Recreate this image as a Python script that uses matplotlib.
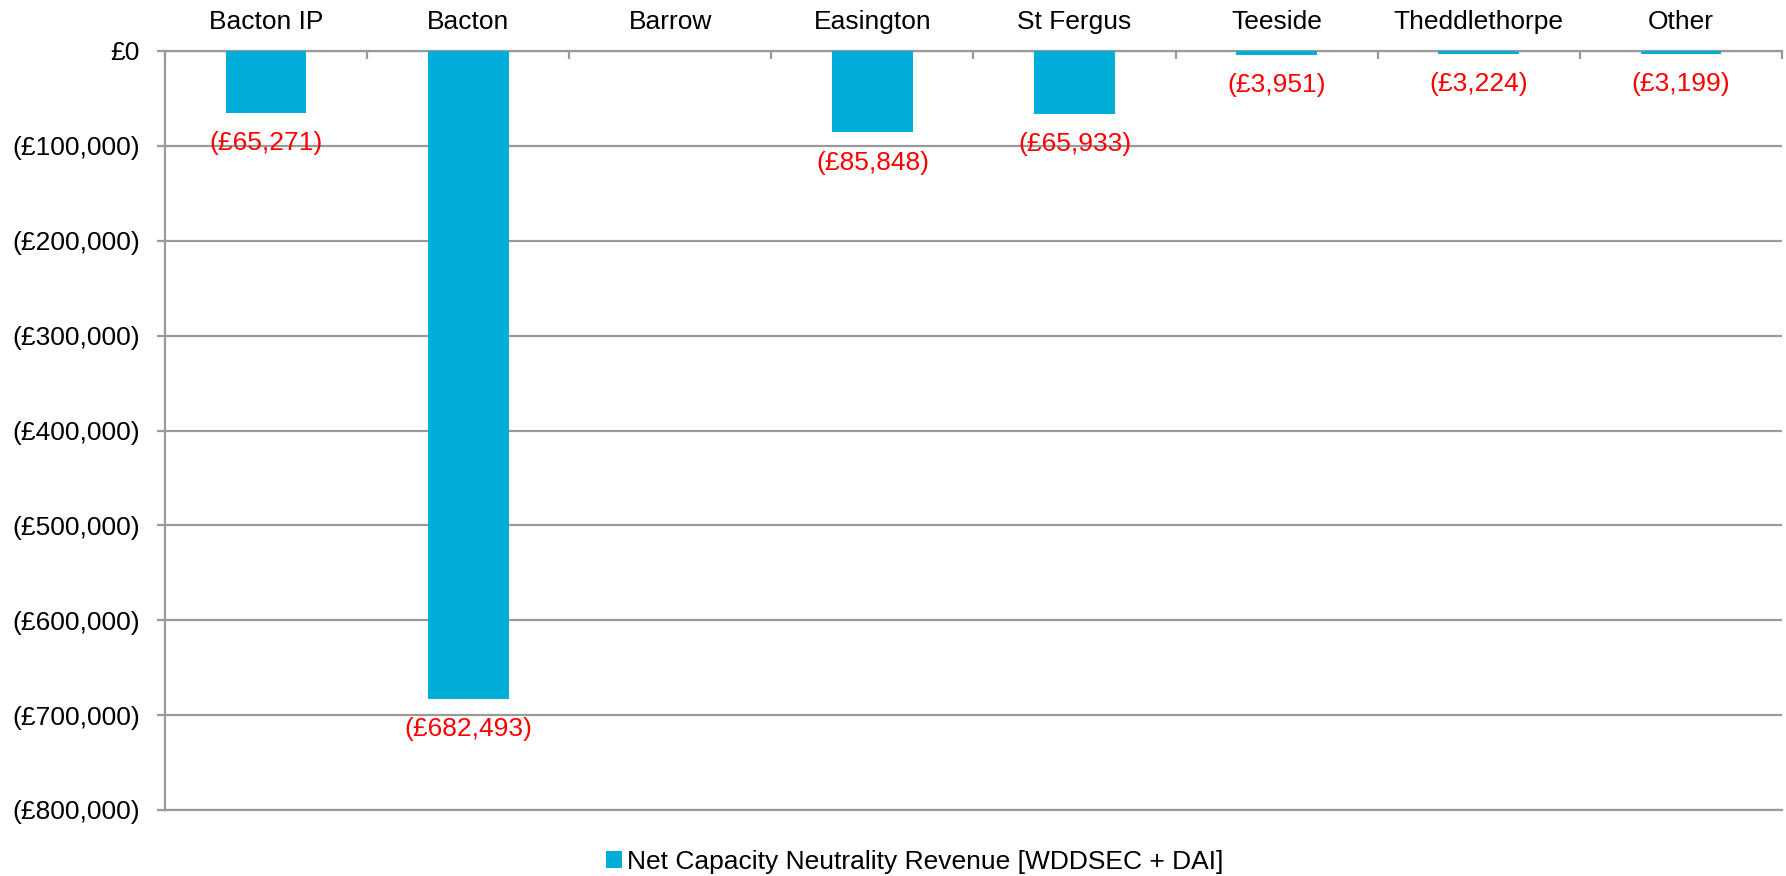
import matplotlib
matplotlib.use("Agg")
import matplotlib.pyplot as plt
import numpy as np

plt.rcParams['font.family'] = ['Liberation Sans', 'DejaVu Sans']

categories = ["Bacton IP", "Bacton", "Barrow", "Easington", "St Fergus", "Teeside", "Theddlethorpe", "Other"]
values = [-65271, -682493, 0, -85848, -65933, -3951, -3224, -3199]
labels = ["(£65,271)", "(£682,493)", "", "(£85,848)", "(£65,933)", "(£3,951)", "(£3,224)", "(£3,199)"]
ytick_vals = [0, -100000, -200000, -300000, -400000, -500000, -600000, -700000, -800000]
ytick_labels = ["£0", "(£100,000)", "(£200,000)", "(£300,000)", "(£400,000)", "(£500,000)",
                "(£600,000)", "(£700,000)", "(£800,000)"]
legend_label = "Net Capacity Neutrality Revenue [WDDSEC + DAI]"

bar_color = "#00AED9"
grid_color = "#9A9A9A"
fs = 19

fig = plt.figure(figsize=(17.86, 8.76), dpi=100)
ax = fig.add_axes([165/1786, 1-810/876, (1782-165)/1786, (810-51)/876])

x = np.arange(len(categories))
bars = ax.bar(x, values, width=0.4, color=bar_color, label=legend_label, zorder=3)

for xi, v, lab in zip(x, values, labels):
    if lab:
        ax.annotate(lab, (xi, v), xytext=(0, -13), textcoords="offset points",
                    ha="center", va="top", color="#FF0000", fontsize=fs, zorder=4)

ax.set_xlim(-0.5, len(categories) - 0.5)
ax.set_ylim(-800000, 0)
ax.set_yticks(ytick_vals)
ax.set_yticklabels(ytick_labels, fontsize=fs)
ax.yaxis.grid(True, color=grid_color, linewidth=1.6, zorder=0)
ax.set_axisbelow(True)

ax.xaxis.tick_top()
ax.set_xticks(x)
ax.set_xticklabels(categories, fontsize=fs)
ax.tick_params(axis='x', which='major', length=0, pad=12)
ax.set_xticks(np.arange(len(categories) + 1) - 0.5, minor=True)
ax.tick_params(axis='x', which='minor', direction='in', length=6, width=1.6, color=grid_color, top=True, bottom=False)
ax.tick_params(axis='y', length=6, width=1.6, color=grid_color, pad=12)

ax.spines["right"].set_visible(False)
for s in ["left", "top", "bottom"]:
    ax.spines[s].set_color(grid_color)
    ax.spines[s].set_linewidth(1.6)

leg = fig.legend(loc="center", bbox_to_anchor=(915/1786, 1-862/876), frameon=False,
                 fontsize=fs, handlelength=0.6, handleheight=0.6, handletextpad=0.2)

fig.savefig("out.png", dpi=100)
